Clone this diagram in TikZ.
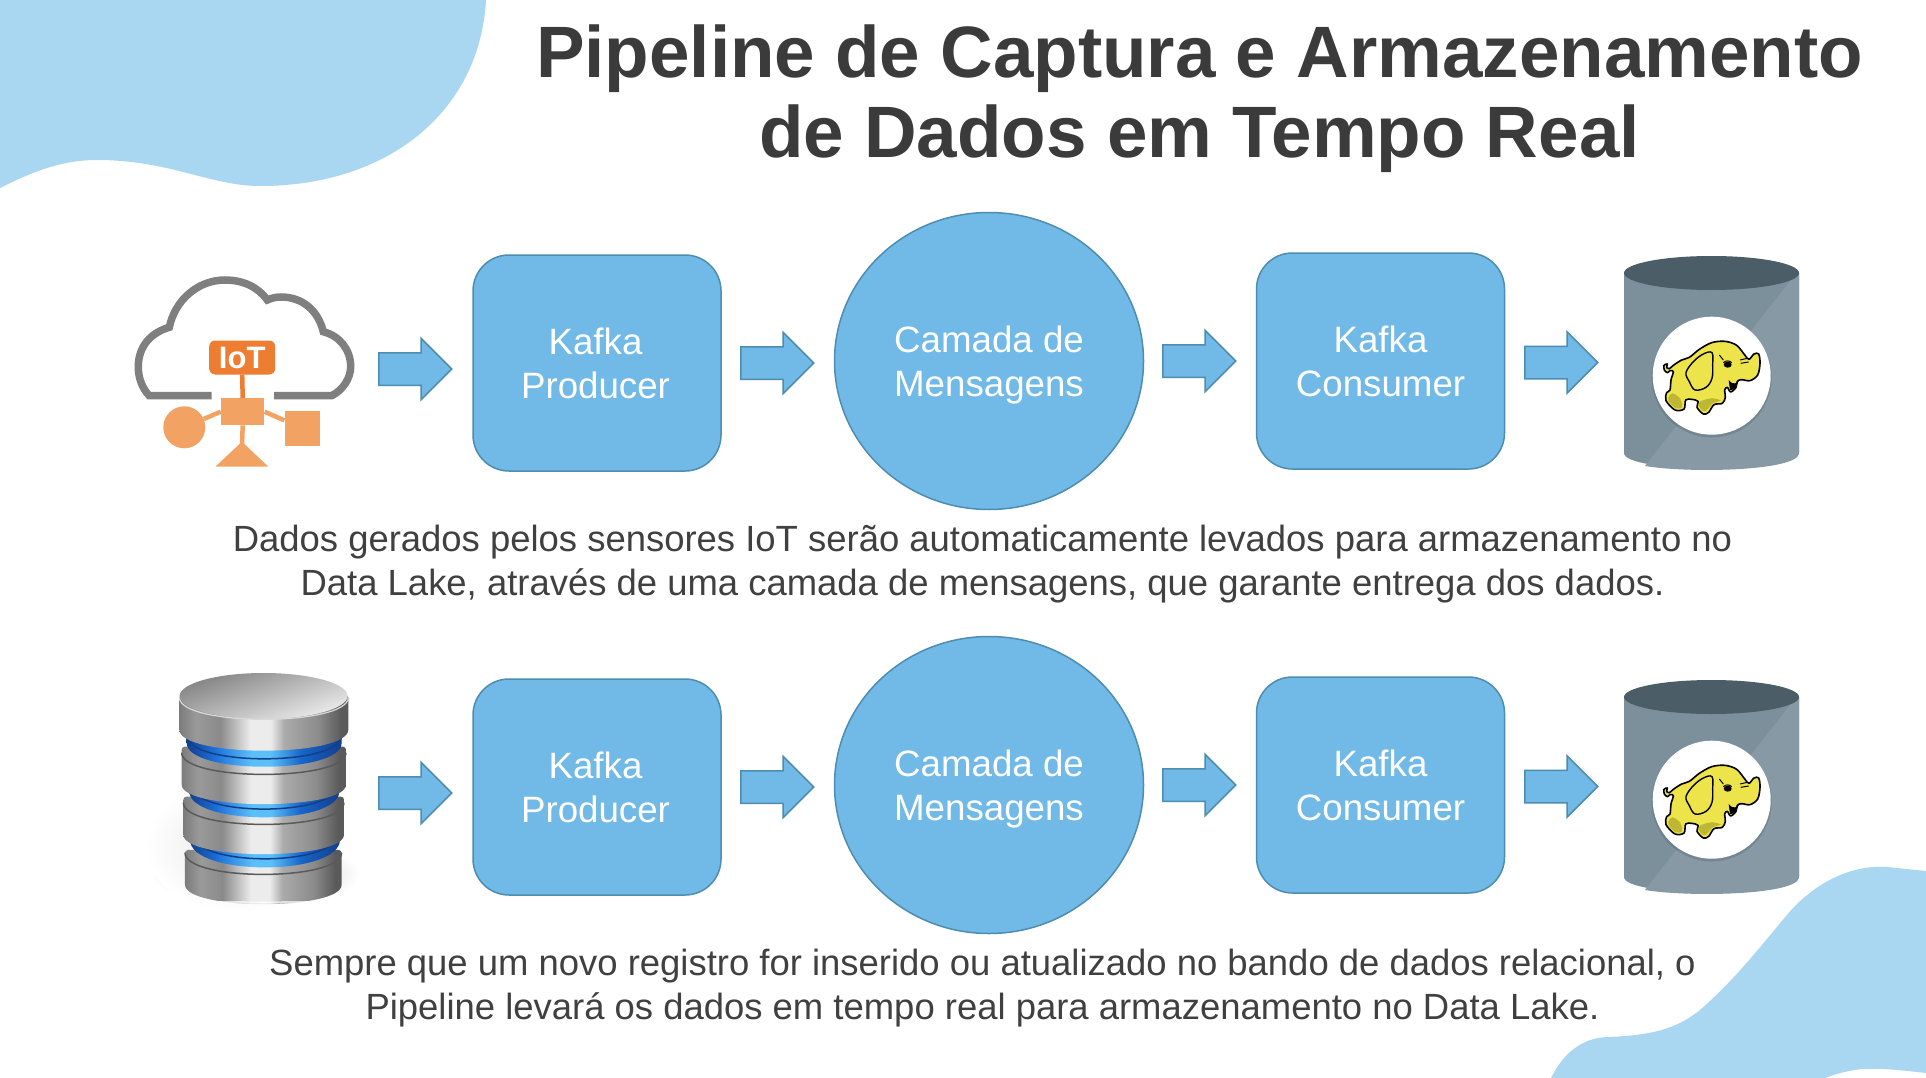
\documentclass[tikz,border=0pt]{standalone}
\usepackage{fontspec}
\setmainfont{Liberation Sans}
\usetikzlibrary{shapes.arrows,shapes.geometric}
\definecolor{blob}{HTML}{A9D7F1}
\definecolor{boxfill}{HTML}{71B9E6}
\definecolor{boxline}{HTML}{4E8DB0}
\definecolor{ink}{HTML}{3B3B3B}
\definecolor{bodyink}{HTML}{404040}
\definecolor{cloudgray}{HTML}{7F7F80}
\definecolor{iotdark}{HTML}{ED7D31}
\definecolor{iotlight}{HTML}{F2A263}
\definecolor{cyltop}{HTML}{4B5E67}
\definecolor{cylleft}{HTML}{7C909B}
\definecolor{cylright}{HTML}{8699A4}
\definecolor{eleph}{HTML}{EDE34A}
\definecolor{elephdark}{HTML}{A9A52A}
\definecolor{mA}{HTML}{7C7C7C}
\definecolor{mB}{HTML}{9A9A9A}
\definecolor{mC}{HTML}{8A8A8A}
\definecolor{mD}{HTML}{ECECEC}
\definecolor{mE}{HTML}{ABABAB}
\definecolor{mF}{HTML}{8C8C8C}
\definecolor{mG}{HTML}{5A5A5A}
\definecolor{bA}{HTML}{123F8C}
\definecolor{bB}{HTML}{1C6FD8}
\definecolor{bC}{HTML}{5CC0F8}
\definecolor{bD}{HTML}{1765C8}
\pgfdeclarehorizontalshading{metalsh}{100bp}{color(0bp)=(mA); color(25bp)=(mA); color(30bp)=(mB); color(37bp)=(mC); color(46bp)=(mD); color(52bp)=(mD); color(56bp)=(mE); color(66bp)=(mF); color(73bp)=(mG); color(75bp)=(mG); color(100bp)=(mG)}
\pgfdeclarehorizontalshading{bluesh}{100bp}{color(0bp)=(bA); color(25bp)=(bA); color(34bp)=(bB); color(46bp)=(bC); color(52bp)=(bC); color(62bp)=(bD); color(75bp)=(bA); color(100bp)=(bA)}
\tikzset{
  x=1pt,y=-1pt,
  procbox/.style={draw=boxline,fill=boxfill,line width=1.5pt,rounded corners=36pt,minimum width=248pt,minimum height=216pt,inner sep=0pt,text=white,align=center,font=\fontsize{36.7}{44}\selectfont},
  msgcircle/.style={draw=boxline,fill=boxfill,line width=1.5pt,ellipse,minimum width=309pt,minimum height=297pt,inner sep=0pt,text=white,align=center,font=\fontsize{36.7}{44}\selectfont},
  blockarrow/.style={single arrow,draw=boxline,fill=boxfill,line width=1.5pt,anchor=tail,minimum height=73pt,inner xsep=0pt,inner ysep=15.5pt,single arrow head extend=14.5pt,single arrow tip angle=90},
  bodytext/.style={text=bodyink,align=center,inner sep=0pt,font=\fontsize{36.45}{44}\selectfont},
  cloudline/.style={draw=cloudgray,line width=7.5pt},
  iotlink/.style={draw=iotlight,line width=4.5pt},
}
% metal / blue side of a disc: l r ytop ybottom controlDepth shading
\newcommand{\discside}[6]{\path[shading=#6,rounded corners=3pt] (#1,#3) -- (#1,#4) .. controls (#1,{#4+#5}) and (#2,{#4+#5}) .. (#2,#4) -- (#2,#3) -- cycle;}
\newcommand{\discarc}[6]{\draw[draw=#6,line width=#5] (#1,#3) .. controls (#1,{#3+#4}) and (#2,{#3+#4}) .. (#2,#3);}
\newcommand{\lakecyl}[2]{%
  \begin{scope}[shift={(#1,#2)}]
    \fill[cylleft] (1624,273) -- (1624,453) .. controls (1624,473.5) and (1799,473.5) .. (1799,453) -- (1799,273) -- cycle;
    \fill[cylright] (1799,273) -- (1799,453) .. controls (1799,471) and (1690,473.5) .. (1645,466) -- (1790,281) -- cycle;
    \fill[cyltop] (1711.5,273) ellipse [x radius=87.5pt,y radius=17pt];
    \fill[black,opacity=.12] (1711.7,377.5) circle [radius=60pt];
    \fill[white] (1711.7,375.7) circle [radius=59pt];
    \begin{scope}[shift={(1650,330)},x=.3333pt,y=-.3333pt]
      \draw[black,line width=1.6pt,fill=eleph,line join=round] plot[smooth cycle,tension=.55] coordinates {(70,125) (60,122) (52,128) (43,120) (42,106) (52,102) (50,112) (58,116) (70,106) (95,90) (118,82) (148,58) (185,38) (225,34) (260,46) (285,76) (297,88) (312,72) (326,72) (330,100) (323,135) (300,152) (275,149) (262,154) (258,172) (242,186) (232,172) (224,180) (226,202) (217,220) (192,224) (176,247) (160,252) (141,232) (144,214) (125,208) (107,210) (102,237) (75,240) (48,212) (50,188) (60,180) (63,150)};
      \fill[elephdark,opacity=.7] plot[smooth cycle,tension=.55] coordinates {(66,190) (90,205) (96,232) (76,234) (55,210)};
      \fill[elephdark,opacity=.7] plot[smooth cycle,tension=.55] coordinates {(150,215) (185,205) (212,212) (188,220) (165,244) (147,230)};
      \draw[black,line width=1.4pt,fill=eleph,line join=round] plot[smooth cycle,tension=.6] coordinates {(108,128) (130,95) (160,72) (186,68) (188,105) (186,145) (168,172) (135,180) (118,155)};
      \fill[black] (233,104) ellipse [x radius=4pt,y radius=3pt];
      \draw[black,line width=1pt] (220,98) .. controls (228,90) and (240,92) .. (245,98);
      \draw[black,line width=1pt] (208,75) -- (220,90);
      \draw[black,line width=1pt] (270,90) -- (292,85);
      \draw[black,line width=1pt] (272,100) -- (296,96);
      \fill[black] (236,150) .. controls (250,168) and (262,160) .. (268,148) .. controls (262,168) and (248,184) .. (240,180) -- cycle;
    \end{scope}
  \end{scope}}
\begin{document}
\begin{tikzpicture}
\useasboundingbox (0,0) rectangle (1926,1078);
\fill[white] (0,0) rectangle (1926,1078);
% background blobs
\fill[blob] (0,0) -- (486,0) .. controls (480,110) and (390,186) .. (260,186) .. controls (210,186) and (170,160) .. (97,160) .. controls (60,160) and (30,173) .. (0,188) -- cycle;
\fill[blob] (1551,1078) .. controls (1565,1050) and (1585,1037) .. (1610,1037) .. controls (1650,1035) and (1675,1030) .. (1700,1010) .. controls (1740,975) and (1765,940) .. (1793,908) .. controls (1825,875) and (1860,865) .. (1887,867) -- (1926,871) -- (1926,1073) .. controls (1900,1070) and (1880,1068) .. (1863,1069) .. controls (1850,1070) and (1835,1074) .. (1825,1078) -- cycle;
% title
\node[text=ink,align=center,inner sep=0pt,font=\fontsize{72.8}{80}\selectfont\bfseries] (title) at (1199.5,99) {Pipeline de Captura e Armazenamento\\de Dados em Tempo Real};
% rows
\foreach \r/\dy in {a/0,b/424}{
  \node[procbox] (prod\r) at (597,{363+\dy}) {\hspace*{-3pt}Kafka\\\hspace*{-3pt}Producer};
  \node[msgcircle] (msg\r) at (989,{361+\dy}) {Camada de\\\leavevmode\smash{Mensagens}};
  \node[procbox] (cons\r) at (1380.5,{361+\dy}) {Kafka\\Consumer};
  \node[blockarrow] (arr1\r) at (378,{369+\dy}) {};
  \node[blockarrow] (arr2\r) at (740,{363+\dy}) {};
  \node[blockarrow] (arr3\r) at (1162,{361+\dy}) {};
  \node[blockarrow] (arr4\r) at (1524,{362.5+\dy}) {};
  \lakecyl{0}{\dy}
}
% captions
\node[bodytext] (cap1) at (982.5,564) {Dados gerados pelos sensores IoT serão automaticamente levados para armazenamento no\\Data Lake, através de uma camada de mensagens, que garante entrega dos dados.};
\node[bodytext] (cap2) at (982.5,988) {Sempre que um novo registro for inserido ou atualizado no bando de dados relacional, o\\Pipeline levará os dados em tempo real para armazenamento no Data Lake.};
% IoT icon
\draw[cloudline] (211.7,395.7) -- (149.3,395.7) .. controls (142,388) and (138.3,378) .. (138.3,366.7) .. controls (138.3,347) and (150,333) .. (169.3,327.3) .. controls (175,300) and (198,280) .. (225,280) .. controls (243,280) and (258,287) .. (267.3,300) .. controls (272,298) and (276,297) .. (281,297) .. controls (302,297) and (318,310) .. (323.3,331.7) .. controls (340,336) and (350.7,350) .. (350.7,366.7) .. controls (350.7,378) and (343,390) .. (331.7,395.7) -- (274,395.7);
\node[fill=iotdark,text=white,rounded corners=6pt,minimum width=66pt,minimum height=34pt,inner sep=0pt,font=\fontsize{31}{31}\selectfont\bfseries] (iot) at (242.2,357.5) {IoT};
\node[fill=iotlight,minimum width=43.5pt,minimum height=27pt,inner sep=0pt] (hub) at (242.7,411.7) {};
\node[fill=iotlight,circle,minimum size=42pt,inner sep=0pt] (sensc) at (184.3,427.3) {};
\node[fill=iotlight,minimum width=35.5pt,minimum height=35pt,inner sep=0pt] (senss) at (302.3,428.3) {};
\coordinate (trib) at (242,445);
\draw[draw=iotdark,line width=4.5pt] (iot.south) -- (hub.north);
\draw[iotlink] (hub.west) -- (sensc);
\draw[iotlink] (hub.east) -- (senss);
\draw[iotlink] (hub.south) -- (trib);
\fill[iotlight] (215.3,466.7) -- (268.3,466.7) -- (242,441.7) -- cycle;
% relational database icon
\begin{scope}[shift={(140,660)},x=.3333pt,y=-.3333pt]
  \shade[inner color=black!28,outer color=white] (345,640) ellipse [x radius=105pt,y radius=33pt];
  \shade[inner color=black!10,outer color=white] (300,560) ellipse [x radius=95pt,y radius=65pt];
  \discside{135}{605}{570}{665}{87}{metalsh}
  \discarc{170}{570}{722}{6}{1.2pt}{white}
  \discarc{135}{605}{578}{87}{1.5pt}{mG}
  \discside{150}{600}{500}{530}{120}{bluesh}
  \discarc{150}{600}{514}{110}{1.5pt}{bA}
  \discside{130}{612}{410}{515}{87}{metalsh}
  \discarc{130}{612}{428}{87}{1.5pt}{mG}
  \discside{148}{598}{350}{385}{113}{bluesh}
  \discarc{148}{598}{370}{103}{1.5pt}{bA}
  \discside{125}{618}{260}{365}{87}{metalsh}
  \discarc{125}{618}{278}{87}{1.5pt}{mG}
  \discside{140}{605}{200}{240}{104}{bluesh}
  \discarc{140}{605}{226}{94}{1.5pt}{bA}
  \discside{118}{625}{105}{200}{93}{metalsh}
  \shade[left color=mB!85!black,right color=mD,shading angle=20] (371,108) ellipse [x radius=84pt,y radius=23pt];
  \discarc{118}{625}{112}{88}{1.2pt}{white!85!black}
\end{scope}
\end{tikzpicture}
\end{document}
